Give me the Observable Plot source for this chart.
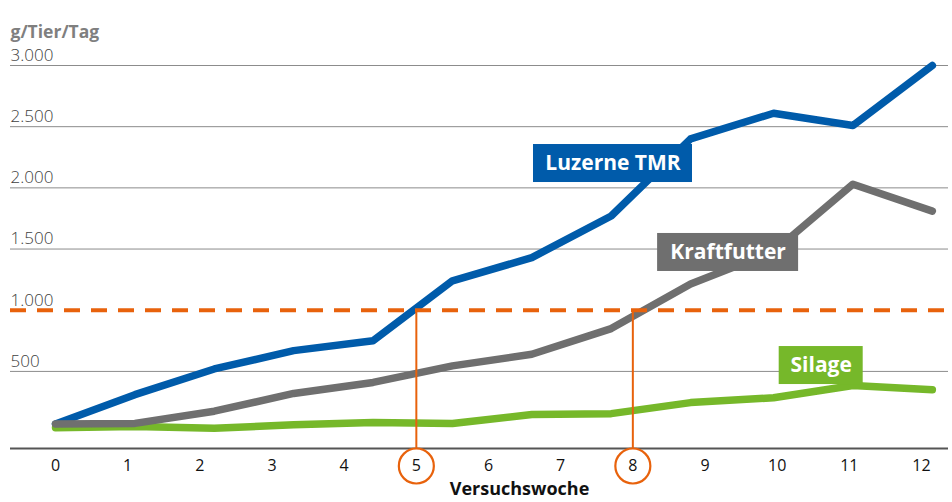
<!DOCTYPE html>
<html>
<head>
<meta charset="utf-8">
<script src="https://cdn.jsdelivr.net/npm/d3@7"></script>
<script src="https://cdn.jsdelivr.net/npm/@observablehq/plot@0.6"></script>
<style>
  html, body { margin: 0; padding: 0; background: #fff; }
  #chart { width: 952px; height: 502px; }
  svg { font-family: "Open Sans", sans-serif; }
</style>
</head>
<body>
<div id="chart"></div>
<script>
// ---- data ----
const weeks = [0, 1, 2, 3, 4, 5, 6, 7, 8, 9, 10, 11, 12];          // x tick labels
const measureWeek = [0, 1.1, 2.2, 3.3, 4.4, 5.5, 6.6, 7.7, 8.8, 9.95, 11.05, 12.15];
const luzerneTMR  = [70, 310, 520, 670, 750, 1240, 1430, 1770, 2400, 2610, 2510, 3000];
const kraftfutter = [70, 75, 175, 320, 410, 545, 640, 850, 1215, 1480, 2030, 1810];
const silage      = [40, 50, 35, 65, 82, 75, 148, 155, 245, 285, 385, 350];
const yTicks = [500, 1000, 1500, 2000, 2500, 3000];
const yTickLabels = ["500", "1.000", "1.500", "2.000", "2.500", "3.000"];
const threshold = 1000;
const markedWeeks = [5, 8];
const seriesNames = ["Luzerne TMR", "Kraftfutter", "Silage"];
const labelWeek  = [7.725, 9.32, 10.61];
const labelValue = [2199, 1472, 548];

const colors = { "Luzerne TMR": "#005BAA", "Kraftfutter": "#6F6F6F", "Silage": "#76B82A" };
const orange = "#E8620C";

const rows = [];
[luzerneTMR, kraftfutter, silage].forEach((vals, s) => {
  vals.forEach((v, i) => rows.push({ series: seriesNames[s], week: measureWeek[i], value: v }));
});
const labels = seriesNames.map((n, i) => ({ name: n, week: labelWeek[i], value: labelValue[i] }));
const boxW = { "Luzerne TMR": 159, "Kraftfutter": 141, "Silage": 84 };
const boxH = 38;

const yMin = -130;
const lineOf = name => Plot.line(rows.filter(d => d.series === name), {
  x: "week", y: "value", stroke: colors[name], strokeWidth: 7.5,
  strokeLinecap: "round", strokeLinejoin: "round"
});
const boxOf = lab => Plot.rect([lab], {
  x1: "week", x2: "week", y1: "value", y2: "value",
  fill: colors[lab.name],
  insetLeft: -boxW[lab.name] / 2, insetRight: -boxW[lab.name] / 2,
  insetTop: -boxH / 2, insetBottom: -boxH / 2
});

const chart = Plot.plot({
  width: 952,
  height: 502,
  marginTop: 65,
  marginBottom: 54,
  marginLeft: 10,
  marginRight: 4,
  x: { domain: [-0.6236, 12.374], axis: null },
  y: { domain: [yMin, 3000], axis: null },
  style: { fontFamily: "'Open Sans', sans-serif", background: "#fff" },
  marks: [
    // gridlines
    Plot.ruleY(yTicks.filter(v => v !== threshold), { stroke: "#8c8c8c", strokeWidth: 1 }),
    // y tick labels
    Plot.text(yTicks, {
      y: d => d, frameAnchor: "left", textAnchor: "start", dy: -10, dx: 0,
      text: (d, i) => yTickLabels[i], fontSize: 17, fill: "#404040", fontWeight: 300
    }),
    // axis title
    Plot.text(["g/Tier/Tag"], {
      frameAnchor: "top-left", textAnchor: "start", dy: -40, text: d => d,
      fontSize: 17.5, fontWeight: "bold", fill: "#7F7F7F"
    }),
    // baseline
    Plot.ruleY([yMin], { stroke: "#555", strokeWidth: 2 }),
    // lines
    lineOf("Luzerne TMR"),
    lineOf("Silage"),
    lineOf("Kraftfutter"),
    // threshold dashed line
    Plot.ruleY([threshold], { stroke: orange, strokeWidth: 4, strokeDasharray: "16,11" }),
    // vertical markers
    Plot.ruleX(markedWeeks, { y1: threshold, y2: yMin, stroke: orange, strokeWidth: 2 }),
    Plot.dot(markedWeeks, {
      x: d => d, frameAnchor: "bottom", dy: 17.5, r: 17.5,
      stroke: orange, strokeWidth: 2.2, fill: "white"
    }),
    // x tick labels
    Plot.text(weeks, {
      x: d => d, frameAnchor: "bottom", dy: 17, lineAnchor: "middle",
      text: d => String(d), fontSize: 16, fill: "#111"
    }),
    // x title
    Plot.text(["Versuchswoche"], {
      frameAnchor: "bottom", dx: 40, dy: 41, lineAnchor: "middle", text: d => d,
      fontSize: 18, fontWeight: "bold", fill: "#111"
    }),
    // series labels
    ...labels.map(boxOf),
    Plot.text(labels, {
      x: "week", y: "value", text: "name", fill: "white",
      fontSize: 21, fontWeight: "bold", lineAnchor: "middle"
    })
  ]
});
document.getElementById("chart").append(chart);
</script>
</body>
</html>
